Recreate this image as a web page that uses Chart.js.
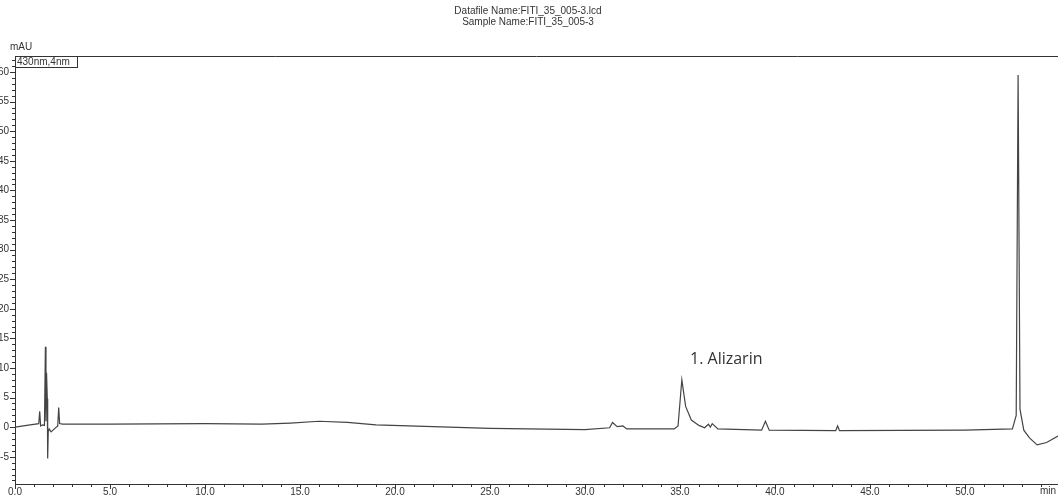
<!DOCTYPE html>
<html><head><meta charset="utf-8">
<script src="https://cdn.jsdelivr.net/npm/chart.js@4"></script>
<style>body{margin:0;background:#fff}#w{width:1058px;height:498px}</style>
</head><body><div id="w"><canvas id="c"></canvas></div>
<script>
const times = [0,0.8,1.25,1.3,1.35,1.45,1.55,1.6,1.63,1.66,1.7,1.72,1.75,1.8,1.9,2.1,2.25,2.3,2.35,2.5,5,10,13,14.5,16,17.5,19,22,25,30,31.3,31.45,31.7,32.0,32.2,34.7,34.9,35.1,35.3,35.6,36.0,36.3,36.5,36.6,36.7,37,39.3,39.5,39.7,43.2,43.3,43.4,50,52.5,52.7,52.8,52.9,53.1,53.4,53.8,54.3,54.9];
const signal = [0,0.4,0.6,2.7,0.2,0.4,0.3,13.6,1,9.2,4.8,-5.3,-0.8,-0.3,-0.8,-0.2,0.2,3.3,0.6,0.5,0.5,0.6,0.5,0.7,1.0,0.8,0.4,0.1,-0.2,-0.4,-0.1,0.8,0.1,0.2,-0.3,-0.3,0.2,8.0,3.5,1.2,0.3,-0.1,0.5,0.0,0.6,-0.3,-0.5,1.0,-0.5,-0.6,0.2,-0.6,-0.5,-0.3,2,59.5,3,-0.5,-1.8,-3.0,-2.6,-1.5];
const yTicks=[-5,0,5,10,15,20,25,30,35,40,45,50,55,60];
const pts=times.map((t,i)=>({x:t,y:signal[i]}));
const F='"Liberation Sans",Arial,sans-serif';
const extra={id:'extra',afterDraw(ch){const c=ch.ctx,a=ch.chartArea,x=ch.scales.x,y=ch.scales.y;
c.save();c.fillStyle='#333';c.font='10px '+F;c.textAlign='center';
c.fillText('Datafile Name:FITI_35_005-3.lcd',528,14);c.fillText('Sample Name:FITI_35_005-3',528,25);
c.textAlign='left';c.fillText('mAU',10,50);
c.fillText('430nm,4nm',17,65);c.strokeStyle='#333';c.lineWidth=1;c.strokeRect(15.5,56.5,62,11);
c.fillText('min',1040,494);
c.font='16px "Open Sans",sans-serif';c.fillText('1. Alizarin',690,364);
c.beginPath();c.moveTo(a.left,a.top+0.5);c.lineTo(a.right,a.top+0.5);c.stroke();
c.beginPath();for(let v=-9;v<=62;v++){const py=Math.round(y.getPixelForValue(v))+0.5;c.moveTo(a.left,py);c.lineTo(a.left-(v%5?3:5),py);}
for(let v=0;v<=55;v+=1){const px=Math.round(x.getPixelForValue(v))+0.5;if(px>a.right)break;c.moveTo(px,a.bottom);c.lineTo(px,a.bottom+(v%5?3:5));}
c.stroke();c.restore();}};
new Chart(document.getElementById('c'),{type:'line',data:{datasets:[{data:pts,borderColor:'#444',borderWidth:1.2,pointRadius:0,tension:0}]},
options:{responsive:true,maintainAspectRatio:false,animation:false,layout:{padding:{top:56,right:0,bottom:0,left:0}},
plugins:{legend:{display:false},tooltip:{enabled:false}},
scales:{x:{type:'linear',min:0,max:54.9,afterBuildTicks(s){s.ticks=[0,5,10,15,20,25,30,35,40,45,50].map(v=>({value:v}));},
ticks:{callback:v=>v.toFixed(1),maxRotation:0,color:'#333',font:{family:F,size:10},padding:2},
grid:{display:false,drawTicks:false},border:{color:'#333'},afterFit(s){s.height=14;}},
y:{min:-9.6,max:62.7,afterBuildTicks(s){s.ticks=yTicks.map(v=>({value:v}));},
ticks:{color:'#333',font:{family:F,size:10},padding:6},
grid:{display:false,drawTicks:false},border:{color:'#333'},afterFit(s){s.width=15;}}}},plugins:[extra]});
</script></body></html>
